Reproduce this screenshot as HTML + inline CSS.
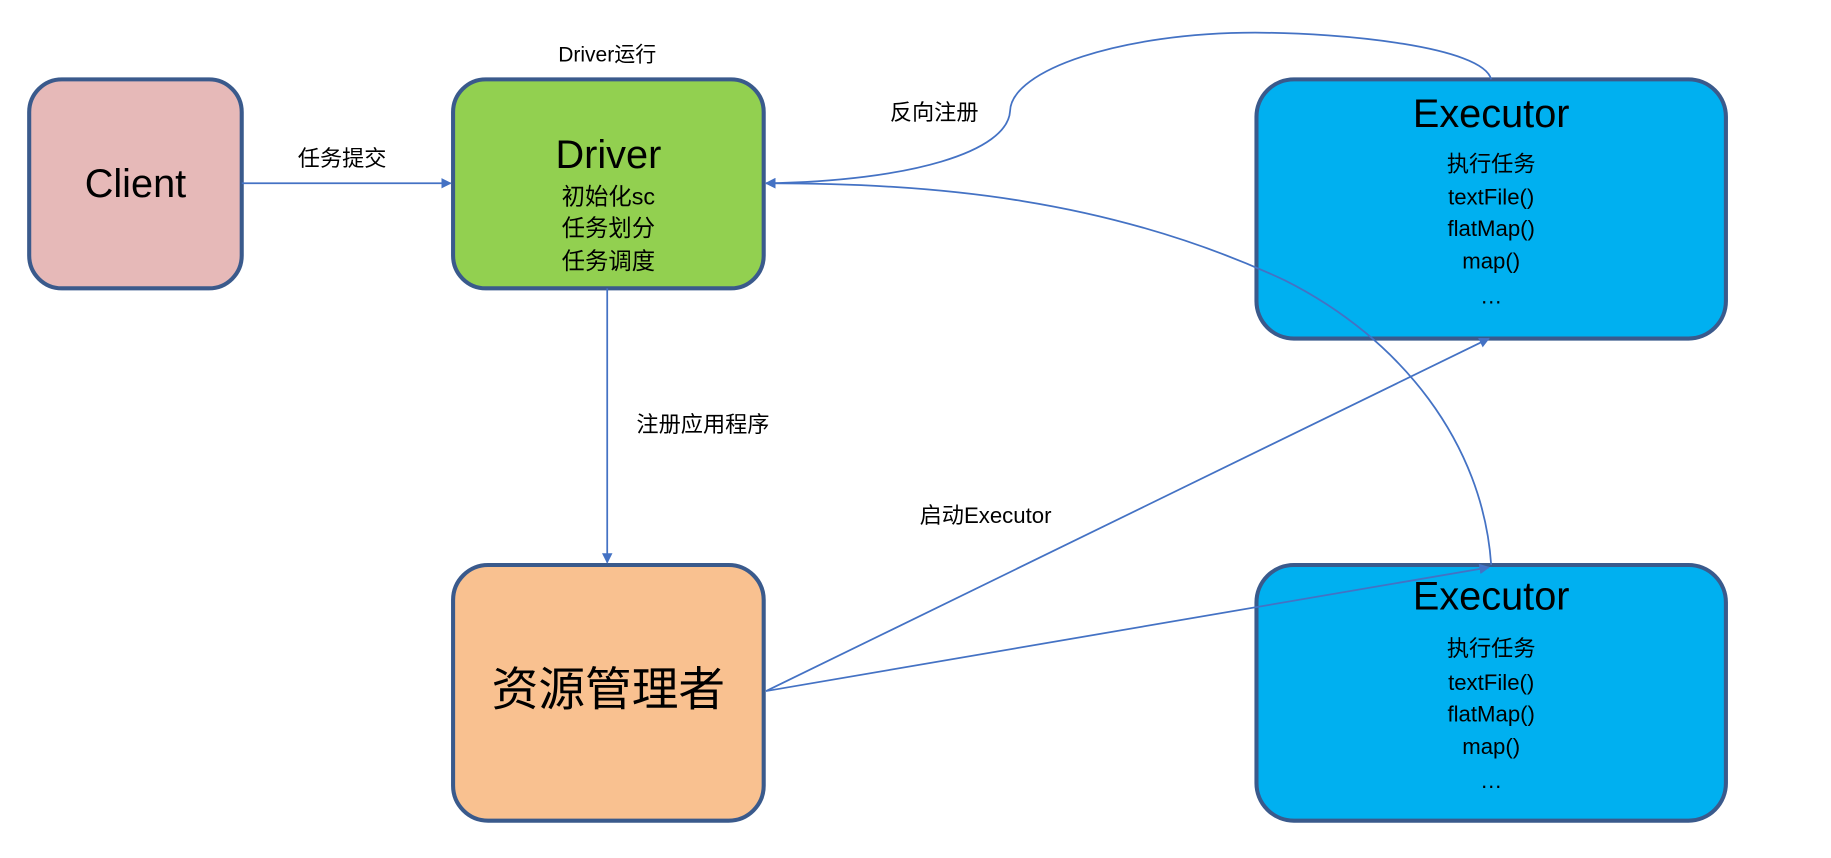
<!DOCTYPE html>
<html><head><meta charset="utf-8"><style>
html,body{margin:0;padding:0;background:#fff;}
svg{display:block}
text{font-family:"Liberation Sans","Noto Sans CJK SC",sans-serif;fill:#000;text-anchor:middle;dominant-baseline:middle}
</style></head><body>
<svg width="1831" height="858" viewBox="0 0 1568 735" preserveAspectRatio="none" xmlns="http://www.w3.org/2000/svg">
<defs>
<marker id="a" viewBox="0 0 10 10" refX="9" refY="5" markerWidth="9" markerHeight="9" markerUnits="userSpaceOnUse" orient="auto">
<path d="M0,0 L10,5 L0,10 z" fill="#4472C4"/></marker>
</defs>
<g stroke="#3A5A8C" stroke-width="3.5">
<rect x="25" y="68" width="182" height="179" rx="28" fill="#E6B9B8"/>
<rect x="388" y="68" width="266" height="179" rx="28" fill="#92D050"/>
<rect x="388" y="484" width="266" height="219" rx="30" fill="#F9C190"/>
<rect x="1076" y="68" width="402" height="222" rx="32" fill="#00B0F0"/>
<rect x="1076" y="484" width="402" height="219" rx="32" fill="#00B0F0"/>
</g>
<g stroke="#4472C4" stroke-width="1.5" fill="none">
<line x1="207" y1="157" x2="386" y2="157" marker-end="url(#a)"/>
<line x1="520" y1="247" x2="520" y2="482" marker-end="url(#a)"/>
<path d="M1277,68 C1270,40 1150,28 1075,28 C960,28 866,60 865,95 C863,130 780,155 656,157" marker-end="url(#a)"/>
<path d="M1277,484 C1270,380 1200,290 1100,240 C950,170 800,157 656,157" marker-end="url(#a)"/>
<line x1="656" y1="592" x2="1275" y2="290" marker-end="url(#a)"/>
<line x1="656" y1="592" x2="1275" y2="486" marker-end="url(#a)"/>
</g>
<text x="116" y="160" font-size="34">Client</text>
<text x="521" y="135" font-size="34">Driver</text>
<text x="521" y="170" font-size="20">初始化sc</text>
<text x="521" y="197" font-size="20">任务划分</text>
<text x="521" y="225" font-size="20">任务调度</text>
<text x="521" y="594" font-size="40">资源管理者</text>
<text x="1277" y="100" font-size="34">Executor</text>
<text x="1277" y="142" font-size="19">执行任务</text>
<text x="1277" y="170" font-size="19">textFile()</text>
<text x="1277" y="197" font-size="19">flatMap()</text>
<text x="1277" y="225" font-size="19">map()</text>
<text x="1277" y="255" font-size="19">…</text>
<text x="1277" y="513" font-size="34">Executor</text>
<text x="1277" y="557" font-size="19">执行任务</text>
<text x="1277" y="586" font-size="19">textFile()</text>
<text x="1277" y="613" font-size="19">flatMap()</text>
<text x="1277" y="641" font-size="19">map()</text>
<text x="1277" y="670" font-size="19">…</text>
<text x="520" y="48" font-size="18">Driver运行</text>
<text x="293" y="137" font-size="19">任务提交</text>
<text x="800" y="98" font-size="19">反向注册</text>
<text x="602" y="365" font-size="19">注册应用程序</text>
<text x="844" y="443" font-size="19">启动Executor</text>
</svg>
</body></html>
